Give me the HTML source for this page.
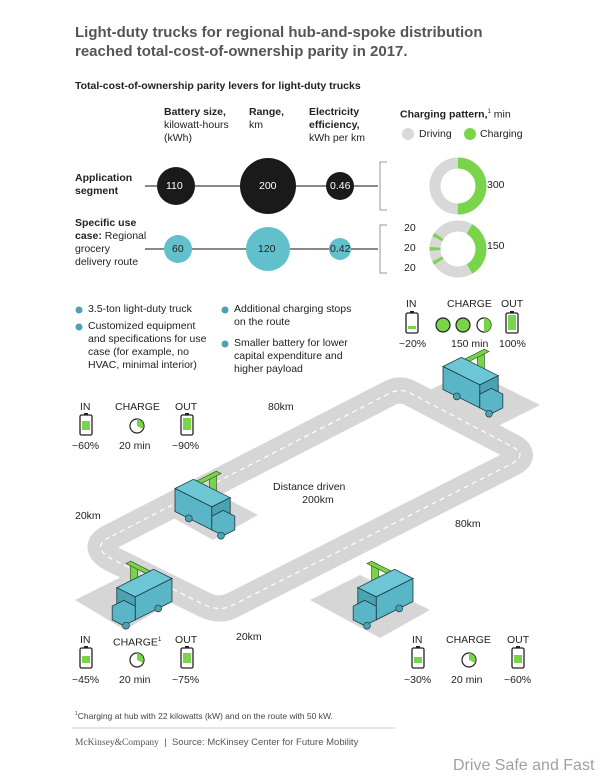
<!DOCTYPE html>
<html><head><meta charset="utf-8"><style>
body{margin:0;background:#fff;}
#c{position:relative;width:601px;height:776px;overflow:hidden;font-family:"Liberation Sans",Arial,sans-serif;color:#222;}
.t{position:absolute;white-space:nowrap;font-size:10.5px;line-height:13px;}
.b{font-weight:bold;}
</style></head><body><div id="c">
<svg width="601" height="776" style="position:absolute;left:0;top:0">
<defs>
<g id="truck">
 <polygon points="30,-22 36,-25 36,2 30,5" fill="#7ad44a" stroke="#2e5a1a" stroke-width=".6"/>
 <polygon points="18,-16 36,-25 40,-23 22,-14" fill="#7ad44a" stroke="#2e5a1a" stroke-width=".6"/>
 <polygon points="0,-10 16,-18 48,-2 32,6" fill="#6cc6d4" stroke="#1d3b42" stroke-width=".7"/>
 <polygon points="0,-10 32,6 32,26 0,10" fill="#5ab6c6" stroke="#1d3b42" stroke-width=".7"/>
 <polygon points="32,6 48,-2 48,18 32,26" fill="#4aa3b3" stroke="#1d3b42" stroke-width=".7"/>
 <polygon points="32,14 42,9 52,14 52,26 42,31 32,26" fill="#5ab6c6" stroke="#1d3b42" stroke-width=".7"/>
 <circle cx="12" cy="16" r="3" fill="#4aa3b3" stroke="#1d3b42" stroke-width=".6"/>
 <circle cx="40" cy="31" r="3" fill="#4aa3b3" stroke="#1d3b42" stroke-width=".6"/>
</g>
<g id="bat"><rect x="-6" y="-10" width="12" height="20" rx="1.5" fill="#fff" stroke="#222" stroke-width="1.3"/><rect x="-2" y="-12" width="4" height="2" fill="#222"/></g>
</defs>
<!-- top chart -->
<line x1="145" y1="186" x2="378" y2="186" stroke="#111" stroke-width="1"/>
<circle cx="176" cy="186" r="19" fill="#1a1a1a"/><circle cx="268" cy="186" r="28" fill="#1a1a1a"/><circle cx="340" cy="186" r="14" fill="#1a1a1a"/>
<line x1="145" y1="249" x2="378" y2="249" stroke="#111" stroke-width="1"/>
<circle cx="178" cy="249" r="14" fill="#62c0cc"/><circle cx="268" cy="249" r="22" fill="#62c0cc"/><circle cx="340" cy="249" r="11" fill="#62c0cc"/>
<path d="M387,162 H380 V210 H387 M387,225 H380 V273 H387" fill="none" stroke="#999" stroke-width="1"/>
<circle cx="408" cy="134" r="6" fill="#d8d8d8"/><circle cx="470" cy="134" r="6" fill="#7ad44a"/>
<circle cx="458" cy="186" r="23" fill="none" stroke="#d8d8d8" stroke-width="11"/>
<circle cx="458" cy="186" r="23" fill="none" stroke="#7ad44a" stroke-width="11" stroke-dasharray="72.3 100" transform="rotate(-90 458 186)"/>
<circle cx="458" cy="249" r="23" fill="none" stroke="#d8d8d8" stroke-width="11"/>
<circle cx="458" cy="249" r="23" fill="none" stroke="#7ad44a" stroke-width="11" stroke-dasharray="0 12 48 34.8 3 9.1 3 9 3 200" transform="rotate(-90 458 249)"/>
<!-- bullets -->
<g fill="#4aa3b3"><circle cx="79" cy="310" r="3.5"/><circle cx="79" cy="327" r="3.5"/><circle cx="225" cy="310" r="3.5"/><circle cx="225" cy="344" r="3.5"/></g>
<!-- road -->
<g fill="#d6d6d6">
<polygon points="420,395 470,370 540,405 490,430"/>
<polygon points="75,600 125,575 175,600 125,630"/>
<polygon points="310,600 360,575 430,610 380,638"/>
<polygon points="150,505 195,482 258,515 213,540"/>
</g>
<path d="M112,536 L390,393 Q400,388 410,393 L513,447 Q527,455 513,463 L233,605 Q220,612 205,605 L110,558 Q90,546 112,536 Z" fill="none" stroke="#d6d6d6" stroke-width="26" stroke-linejoin="round"/>
<path d="M112,536 L390,393 Q400,388 410,393 L513,447 Q527,455 513,463 L233,605 Q220,612 205,605 L110,558 Q90,546 112,536 Z" fill="none" stroke="#fff" stroke-width="1.2" stroke-dasharray="5 4"/>
<use href="#truck" transform="translate(443,378) scale(1.15)"/>
<use href="#truck" transform="translate(175,500) scale(1.15)"/>
<use href="#truck" transform="translate(172,590) scale(-1.15,1.15)"/>
<use href="#truck" transform="translate(413,590) scale(-1.15,1.15)"/>
<!-- battery blocks -->
<use href="#bat" x="412" y="323"/><rect x="408" y="326" width="8" height="3" fill="#7ad44a"/>
<use href="#bat" x="512" y="323"/><rect x="508" y="315" width="8" height="15" fill="#7ad44a"/>
<g stroke="#222" stroke-width="1.2" fill="#7ad44a"><circle cx="443" cy="325" r="7"/><circle cx="463" cy="325" r="7"/><circle cx="484" cy="325" r="7" fill="#fff"/></g>
<path d="M484,318 A7,7 0 0 1 484,332 Z" fill="#7ad44a"/>
<use href="#bat" x="86" y="425"/><rect x="82" y="421" width="8" height="9" fill="#7ad44a"/>
<use href="#bat" x="187" y="425"/><rect x="183" y="418" width="8" height="12" fill="#7ad44a"/>
<circle cx="137" cy="426" r="7" fill="#fff" stroke="#222" stroke-width="1.2"/><path d="M137,426 V419 A7,7 0 0 1 143,429 Z" fill="#7ad44a"/>
<use href="#bat" x="86" y="658"/><rect x="82" y="656" width="8" height="7" fill="#7ad44a"/>
<use href="#bat" x="187" y="658"/><rect x="183" y="653" width="8" height="10" fill="#7ad44a"/>
<circle cx="137" cy="660" r="7" fill="#fff" stroke="#222" stroke-width="1.2"/><path d="M137,660 V653 A7,7 0 0 1 143,663 Z" fill="#7ad44a"/>
<use href="#bat" x="418" y="658"/><rect x="414" y="657" width="8" height="6" fill="#7ad44a"/>
<use href="#bat" x="518" y="658"/><rect x="514" y="655" width="8" height="8" fill="#7ad44a"/>
<circle cx="469" cy="660" r="7" fill="#fff" stroke="#222" stroke-width="1.2"/><path d="M469,660 V653 A7,7 0 0 1 475,663 Z" fill="#7ad44a"/>
<line x1="72" y1="728" x2="395" y2="728" stroke="#ccc"/>
</svg>
<div class="t" style="left:75px;top:23px;font-size:15px;line-height:19px;color:#555;font-weight:bold">Light-duty trucks for regional hub-and-spoke distribution<br>reached total-cost-of-ownership parity in 2017.</div>
<div class="t b" style="left:75px;top:80px;font-size:10.5px">Total-cost-of-ownership parity levers for light-duty trucks</div>
<div class="t" style="left:164px;top:106px"><b>Battery size,</b><br>kilowatt-hours<br>(kWh)</div>
<div class="t" style="left:249px;top:106px"><b>Range,</b><br>km</div>
<div class="t" style="left:309px;top:106px"><b>Electricity<br>efficiency,</b><br>kWh per km</div>
<div class="t" style="left:400px;top:106px"><b>Charging pattern,</b><sup style="font-size:6px">1</sup> min</div>
<div class="t" style="left:419px;top:128px">Driving</div>
<div class="t" style="left:480px;top:128px">Charging</div>
<div class="t b" style="left:75px;top:172px">Application<br>segment</div>
<div class="t" style="left:75px;top:217px"><b>Specific use<br>case:</b> Regional<br>grocery<br>delivery route</div>
<div class="t" style="left:166px;top:180px;color:#fff">110</div>
<div class="t" style="left:259px;top:180px;color:#fff">200</div>
<div class="t" style="left:330px;top:180px;color:#fff">0.46</div>
<div class="t" style="left:172px;top:243px">60</div>
<div class="t" style="left:258px;top:243px">120</div>
<div class="t" style="left:330px;top:243px">0.42</div>
<div class="t" style="left:487px;top:179px">300</div>
<div class="t" style="left:487px;top:240px">150</div>
<div class="t" style="left:404px;top:222px">20</div>
<div class="t" style="left:404px;top:242px">20</div>
<div class="t" style="left:404px;top:262px">20</div>
<div class="t" style="left:88px;top:303px">3.5-ton light-duty truck</div>
<div class="t" style="left:88px;top:320px">Customized equipment<br>and specifications for use<br>case (for example, no<br>HVAC, minimal interior)</div>
<div class="t" style="left:234px;top:303px">Additional charging stops<br>on the route</div>
<div class="t" style="left:234px;top:337px">Smaller battery for lower<br>capital expenditure and<br>higher payload</div>
<div class="t" style="left:406px;top:298px">IN</div><div class="t" style="left:447px;top:298px">CHARGE</div><div class="t" style="left:501px;top:298px">OUT</div>
<div class="t" style="left:399px;top:338px">~20%</div><div class="t" style="left:451px;top:338px">150 min</div><div class="t" style="left:499px;top:338px">100%</div>
<div class="t" style="left:80px;top:401px">IN</div><div class="t" style="left:115px;top:401px">CHARGE</div><div class="t" style="left:175px;top:401px">OUT</div>
<div class="t" style="left:72px;top:440px">~60%</div><div class="t" style="left:119px;top:440px">20 min</div><div class="t" style="left:172px;top:440px">~90%</div>
<div class="t" style="left:80px;top:634px">IN</div><div class="t" style="left:113px;top:634px">CHARGE<sup style="font-size:6px">1</sup></div><div class="t" style="left:175px;top:634px">OUT</div>
<div class="t" style="left:72px;top:674px">~45%</div><div class="t" style="left:119px;top:674px">20 min</div><div class="t" style="left:172px;top:674px">~75%</div>
<div class="t" style="left:412px;top:634px">IN</div><div class="t" style="left:446px;top:634px">CHARGE</div><div class="t" style="left:507px;top:634px">OUT</div>
<div class="t" style="left:404px;top:674px">~30%</div><div class="t" style="left:451px;top:674px">20 min</div><div class="t" style="left:504px;top:674px">~60%</div>
<div class="t" style="left:268px;top:401px">80km</div>
<div class="t" style="left:75px;top:510px">20km</div>
<div class="t" style="left:273px;top:481px;text-align:center">Distance driven<br>&nbsp;&nbsp;&nbsp;&nbsp;&nbsp;&nbsp;200km</div>
<div class="t" style="left:455px;top:518px">80km</div>
<div class="t" style="left:236px;top:631px">20km</div>
<div class="t" style="left:75px;top:708px;font-size:8.5px;color:#444"><sup style="font-size:5px">1</sup>Charging at hub with 22 kilowatts (kW) and on the route with 50 kW.</div>
<div class="t" style="left:75px;top:736px;font-size:9.5px;color:#555"><span style="font-family:'Liberation Serif',serif">McKinsey&amp;Company</span> &nbsp;| &nbsp;Source: McKinsey Center for Future Mobility</div>
<div class="t" style="left:453px;top:757px;font-size:16px;line-height:18px;color:#a0a0a0">Drive Safe and Fast</div>
</div></body></html>
